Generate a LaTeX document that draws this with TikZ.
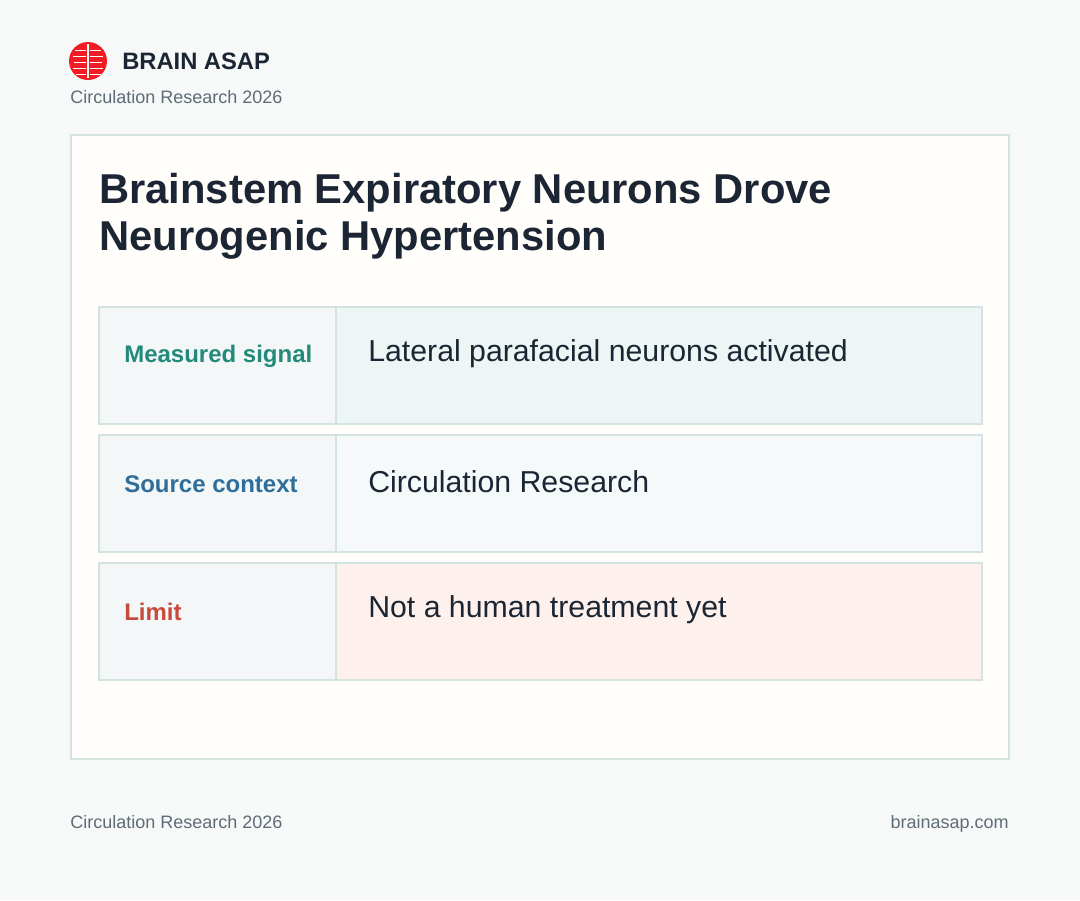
\documentclass[tikz,border=0pt]{standalone}
\usepackage{fontspec}
\setmainfont{Liberation Sans}
\usetikzlibrary{positioning}
\definecolor{pagebg}{HTML}{F7F9F9}
\definecolor{cardbg}{HTML}{FFFEFA}
\definecolor{edge}{HTML}{D3E3DF}
\definecolor{ink}{HTML}{1B2533}
\definecolor{muted}{HTML}{5F6B76}
\definecolor{teal}{HTML}{238A7A}
\definecolor{blue}{HTML}{2F6E9A}
\definecolor{brick}{HTML}{C9493B}
\definecolor{lab}{HTML}{F3F7F7}
\definecolor{rowa}{HTML}{EDF6F5}
\definecolor{rowb}{HTML}{F6F9FA}
\definecolor{rowc}{HTML}{FEF1ED}
\definecolor{brainred}{HTML}{F21D24}
\tikzset{
  px/.style={x=0.75pt,y=-0.75pt},
  labcell/.style={draw=edge,line width=1.5pt,fill=lab},
  labtext/.style={anchor=west,inner sep=0pt,font=\fontsize{18}{22}\selectfont\bfseries},
  valtext/.style={anchor=west,inner sep=0pt,font=\fontsize{22.7}{27}\selectfont,text=ink},
  small/.style={inner sep=0pt,font=\fontsize{13.5}{16}\selectfont,text=muted}
}
\begin{document}
\begin{tikzpicture}[px]
    \fill[pagebg] (0,0) rectangle (1080,900);
    \useasboundingbox (0,0) rectangle (1080,900);
    % brand
    \fill[brainred] (88,61) ellipse (19 and 19);
    \draw[white,line width=0.8pt] (88,44)--(88,78);
    \foreach \yy/\w in {50/10,56/14,62/12,68/14,74/9} {
      \draw[white,line width=0.6pt] (80-\w/2,\yy)--(86,\yy);
      \draw[white,line width=0.6pt] (90,\yy)--(96+\w/2,\yy);
    }
    \node[anchor=west,inner sep=0pt,font=\fontsize{17.8}{21}\selectfont\bfseries,text=ink] (brand) at (122,61) {BRAIN ASAP};
    \node[anchor=west,small] (journal) at (70,97) {Circulation Research 2026};
    % card
    \draw[edge,fill=cardbg,line width=1.5pt] (71,135) rectangle (1009,759);
    \node[anchor=north west,inner sep=0pt,align=left,font=\fontsize{31.3}{35.5}\selectfont\bfseries,text=ink] (title) at (99,173)
      {Brainstem Expiratory Neurons Drove\\Neurogenic Hypertension};
    % rows
    \foreach \top/\fillc/\labc/\lab/\val [count=\i] in {
        307/rowa/teal/Measured signal/Lateral parafacial neurons activated,
        435/rowb/blue/Source context/Circulation Research,
        563/rowc/brick/Limit/Not a human treatment yet} {
      \draw[labcell] (99,\top) rectangle (336,\top+117);
      \draw[edge,line width=1.5pt,fill=\fillc] (336,\top) rectangle (982,\top+117);
      \node[labtext,text=\labc] (lab\i) at (124,\top+49) {\lab};
      \node[valtext] (val\i) at (368,\top+47) {\val};
    }
    % footer
    \node[anchor=west,small] (footl) at (70,822) {Circulation Research 2026};
    \node[anchor=base east,small] (footr) at (1009,828) {brainasap.com};
\end{tikzpicture}
\end{document}
